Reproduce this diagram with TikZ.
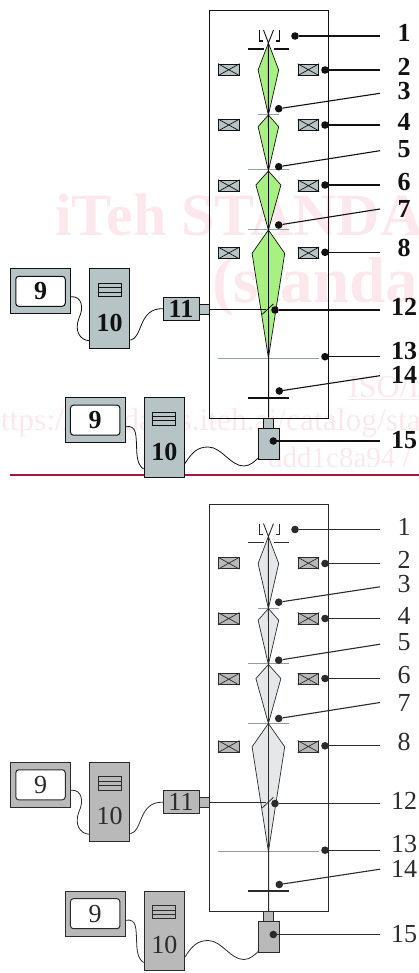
\documentclass[tikz,border=0pt]{standalone}
\usepackage{fontspec}
\setmainfont{Liberation Serif}
\definecolor{markpink}{HTML}{FCE8EC}
\definecolor{rulered}{HTML}{B0123F}
\tikzset{
  frame/.style={draw=inkcol,line width=1pt},
  device/.style={draw=inkcol,fill=boxcol,line width=1pt,inner sep=0pt},
  screen/.style={draw=inkcol,fill=white,rounded corners=3pt,line width=1pt,inner sep=0pt,minimum width=49.5pt,minimum height=30pt},
  ventbar/.style={draw=inkcol,fill=boxcol,line width=.7pt,inner sep=0pt,minimum width=23pt,minimum height=4.4pt},
  coil/.style={draw=inkcol,fill=boxcol,line width=.9pt,inner sep=0pt,minimum width=20.5pt,minimum height=11pt},
  beam/.style={draw=inkcol,fill=beamcol,line width=.7pt},
  aperture/.style={draw=slitcol,line width=1pt},
  plate/.style={draw=inkcol,line width=1.6pt},
  callout/.style={draw=inkcol,line width=1.1pt},
  wire/.style={draw=inkcol,line width=.8pt},
  calldot/.style={circle,fill=inkcol,inner sep=0pt,minimum size=7.6pt},
  number/.style={text=inkcol,inner sep=0pt,font=\fontsize{26}{26}\selectfont\numweight},
  watermark/.style={text=markpink,anchor=base west,inner sep=0pt}
}
\begin{document}
\begin{tikzpicture}[x=1pt,y=-1pt]
    \useasboundingbox (0,0) rectangle (419,973);
    \begin{scope}
      \clip (0,0) rectangle (419,973);
      \node[watermark,font=\fontsize{60}{60}\selectfont\bfseries] (wmtitle) at (55,236) {iTeh STANDA};
      \node[watermark,font=\fontsize{65}{65}\selectfont\bfseries] (wmsite) at (212,302) {(standa};
      \node[watermark,font=\fontsize{32}{32}\selectfont] (wmiso) at (348,397) {\underline{ISO/I}};
      \node[watermark,font=\fontsize{31.5}{31.5}\selectfont] (wmlink) at (-15,430) {https://standards.iteh.ai/catalog/sta};
      \node[watermark,font=\fontsize{29}{29}\selectfont] (wmcode) at (268,467) {ddd1c8a94 /};
    \end{scope}
    \draw[rulered,line width=1.5pt] (10,475) -- (419,475);
    \foreach \panel/\dy/\beamname/\boxname/\inkname/\slitname/\weight in {
        a/0/A9F082/B6C4C6/111111/8DA4AB/\bfseries,
        b/493.5/E6E7E8/B9B9BA/2B2B2B/9A9A9A/\mdseries} {
      \definecolor{beamcol}{HTML}{\beamname}
      \definecolor{boxcol}{HTML}{\boxname}
      \definecolor{inkcol}{HTML}{\inkname}
      \definecolor{slitcol}{HTML}{\slitname}
      \let\numweight\weight
      \begin{scope}[shift={(0,\dy)}]
        \draw[frame] (209,11) rectangle (328,418);
        \foreach \top/\wide/\half/\bottom in {43/70/10.3/115,115/126.7/10.3/171,171/185/12.5/230,230/253.3/16.3/358}
          \draw[beam] (268.4,\top) -- (268.4+\half,\wide) -- (268.4,\bottom) -- (268.4-\half,\wide) -- cycle;
        \foreach \y [count=\i] in {69.7,125,185.7,253} {
          \node[coil] (coil\panel l\i) at (228.8,\y) {};
          \draw[inkcol,line width=.7pt] (coil\panel l\i.north west) -- (coil\panel l\i.south east) (coil\panel l\i.north east) -- (coil\panel l\i.south west);
          \node[coil] (coil\panel r\i) at (308.4,\y) {};
          \draw[inkcol,line width=.7pt] (coil\panel r\i.north west) -- (coil\panel r\i.south east) (coil\panel r\i.north east) -- (coil\panel r\i.south west);
        }
        \draw[inkcol,line width=1.2pt] (259.5,30) -- (259.5,41) -- (262.5,41);
        \draw[inkcol,line width=1.2pt] (279.3,30) -- (279.3,41) -- (276.3,41);
        \draw[inkcol,line width=.9pt] (263.5,30) -- (268.4,43) -- (273.5,30);
        \draw[plate] (248,49) -- (263.5,49);
        \draw[plate] (274,49) -- (289,49);
        \draw[aperture] (258,114.5) -- (279,114.5);
        \draw[aperture] (248,170) -- (289,170);
        \draw[aperture] (248,229.5) -- (289,229.5);
        \draw[aperture] (218,358.3) -- (319,358.3);
        \draw[plate] (248,397.7) -- (289,397.7);
        \node[device,minimum width=9.5pt,minimum height=10pt] (camstub\panel) at (268.6,423) {};
        \node[device,minimum width=20.6pt,minimum height=31pt] (camera\panel) at (269,443.5) {};
        \coordinate (gun\panel) at (268.4,43);
        \draw[inkcol,line width=.9pt] (gun\panel) -- (camstub\panel.north);
        \node[device,minimum width=35.7pt,minimum height=22.7pt] (probe\panel) at (181.2,308.7) {};
        \node[number] (probelabel\panel) at (181,308.7) {11};
        \node[device,minimum width=10pt,minimum height=10pt] (probestub\panel) at (204,309) {};
        \coordinate (mirrorlow\panel) at (262.3,314.3);
        \coordinate (mirrorhigh\panel) at (273.3,304);
        \draw[inkcol,line width=.8pt] (mirrorlow\panel) -- (mirrorhigh\panel);
        \draw[inkcol,line width=.8pt] (probestub\panel.east) -- (265.5,309);
        \foreach \set/\mx/\my/\cx/\cy in {near/40.5/291.3/109.7/308.7,far/95.2/420.2/164.3/437.5} {
          \node[device,minimum width=60.4pt,minimum height=45.3pt] (monitor\set\panel) at (\mx,\my) {};
          \node[screen,number] (display\set\panel) at (\mx,\my) {9};
          \node[device,minimum width=40.4pt,minimum height=79.4pt] (computer\set\panel) at (\cx,\cy) {};
          \node[number] (computerlabel\set\panel) at (\cx,\cy+14) {10};
          \foreach \row in {-23.3,-18.9,-14.5}
            \node[ventbar] (vent\set\row\panel) at (\cx,\cy+\row) {};
        }
        \draw[wire] ([yshift=-5.4pt]monitornear\panel.east) .. controls (82,296) and (84,308) .. (79,318) .. controls (74,331) and (80,340) .. ([yshift=-32pt]computernear\panel.west);
        \draw[wire] ([yshift=-31.5pt]computernear\panel.east) .. controls (143,338) and (138,308) .. (probe\panel.west);
        \draw[wire] ([yshift=-6.5pt]monitorfar\panel.east) .. controls (137,425) and (136,435) .. (136.7,450) .. controls (137,462) and (140,467) .. ([yshift=-31.5pt]computerfar\panel.west);
        \draw[wire] ([yshift=-26pt]computerfar\panel.east) .. controls (192,452) and (198,447) .. (208,447) .. controls (222,447) and (230,466) .. (244,466) .. controls (250,466) and (255,461) .. ([yshift=-14.5pt]camera\panel.west);
        \foreach \n/\dotx/\doty/\endy/\laby in {
            1/295/36/36/33.3,2/325/70/70/66.5,3/278.7/108.7/93.3/91,4/325/125/125/122,
            5/278.7/166.7/150.7/149,6/325/185/185/182,7/278.7/225/209/209,8/325/252.3/252.3/248.3,
            12/275/310/310/307.2,13/325/356.7/356.7/350.8,14/279.3/391/375.7/375,15/273.3/441/441/440.5} {
          \node[calldot] (dot\n\panel) at (\dotx,\doty) {};
          \coordinate (tail\n\panel) at (380,\endy);
          \node[number] (num\n\panel) at (404,\laby) {\n};
          \draw[callout] (dot\n\panel) -- (tail\n\panel);
        }
      \end{scope}
    }
\end{tikzpicture}
\end{document}
